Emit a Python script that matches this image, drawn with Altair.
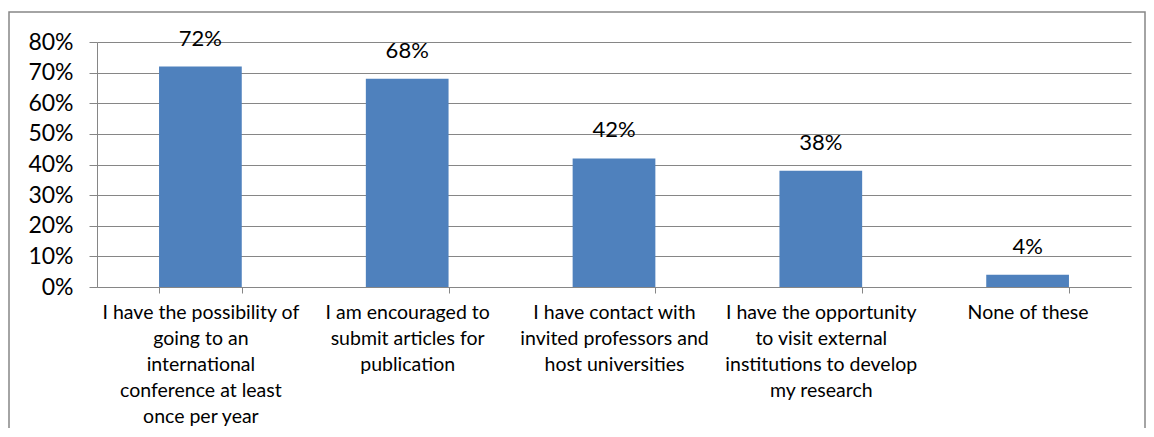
import altair as alt
import pandas as pd

categories = [
    "I have the possibility of|going to an|international|conference at least|once per year",
    "I am encouraged to|submit articles for|publication",
    "I have contact with|invited professors and|host universities",
    "I have the opportunity|to visit external|institutions to develop|my research",
    "None of these",
]
values = [0.72, 0.68, 0.42, 0.38, 0.04]
y_ticks = [0, 0.1, 0.2, 0.3, 0.4, 0.5, 0.6, 0.7, 0.8]

df = pd.DataFrame({"cat": categories, "val": values})

FONT = "Lato"
GRID = "#868686"
W, H = 1034, 245

x_enc = alt.X(
    "cat:N",
    sort=categories,
    title=None,
    scale=alt.Scale(paddingInner=0.6, paddingOuter=0.3),
    axis=alt.Axis(
        labelExpr="split(datum.label, '|')",
        labelAngle=0,
        labelFontSize=19.5,
        labelLineHeight=26,
        labelFont=FONT,
        labelColor="#000000",
        labelLimit=400,
        labelPadding=10,
        labelBaseline="top",
        labelOverlap=False,
        tickBand="extent",
        tickSize=6,
        tickColor=GRID,
        domainColor=GRID,
        grid=False,
    ),
)
y_enc = alt.Y(
    "val:Q",
    title=None,
    scale=alt.Scale(domain=[0, 0.8], nice=False),
    axis=alt.Axis(
        values=y_ticks,
        tickCount=9,
        format=".0%",
        labelFontSize=23,
        labelFont=FONT,
        labelColor="#000000",
        labelPadding=16,
        labelOverlap=False,
        tickSize=8,
        tickColor=GRID,
        domainColor=GRID,
        gridColor=GRID,
        grid=True,
    ),
)

base = alt.Chart(df)
bars = base.mark_bar(color="#4F81BD").encode(x=x_enc, y=y_enc)
labels = base.mark_text(
    baseline="alphabetic", dy=-21, fontSize=22, font=FONT, color="#000000"
).encode(x=x_enc, y=y_enc, text=alt.Text("val:Q", format=".0%"))

frame = alt.Chart(pd.DataFrame({"a": [0]})).mark_rect(
    fillOpacity=0, stroke=GRID, strokeWidth=1.5
).encode(x=alt.value(-88), x2=alt.value(1048), y=alt.value(-30), y2=alt.value(400))

chart = alt.layer(frame, bars, labels).properties(
    width=W,
    height=H,
    autosize=alt.AutoSizeParams(type="none"),
    padding={"left": 89, "top": 34, "right": 15, "bottom": 141},
).configure_view(stroke=None)

chart.save("out.html", embed_options={"renderer": "svg", "actions": False})
